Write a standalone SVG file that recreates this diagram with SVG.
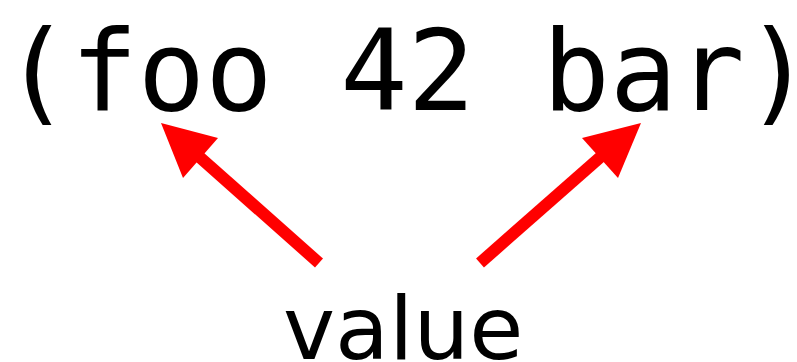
<svg xmlns="http://www.w3.org/2000/svg" width="797" height="362" viewBox="0 0 797 362">
<style>
.code{font-family:"DejaVu Sans Mono",monospace;font-size:112px;fill:#000}
.lbl{font-family:"DejaVu Sans",sans-serif;font-size:88px;fill:#000}
.shaft{stroke:#f00;stroke-width:12;fill:none}
.head{fill:#f00}
</style>
<rect width="797" height="362" fill="#fff"/>
<g id="expr"><text class="code" x="3" y="110">(foo 42 bar)</text></g>
<g id="value"><text class="lbl" x="283" y="359">value</text></g>
<g id="connectors">
<line class="shaft" x1="319" y1="263" x2="195" y2="153"/>
<polygon class="head" points="161,123 218,138 183,178"/>
<line class="shaft" x1="480" y1="263" x2="605" y2="153"/>
<polygon class="head" points="641,123 582,138 618,178"/>
</g>
</svg>
